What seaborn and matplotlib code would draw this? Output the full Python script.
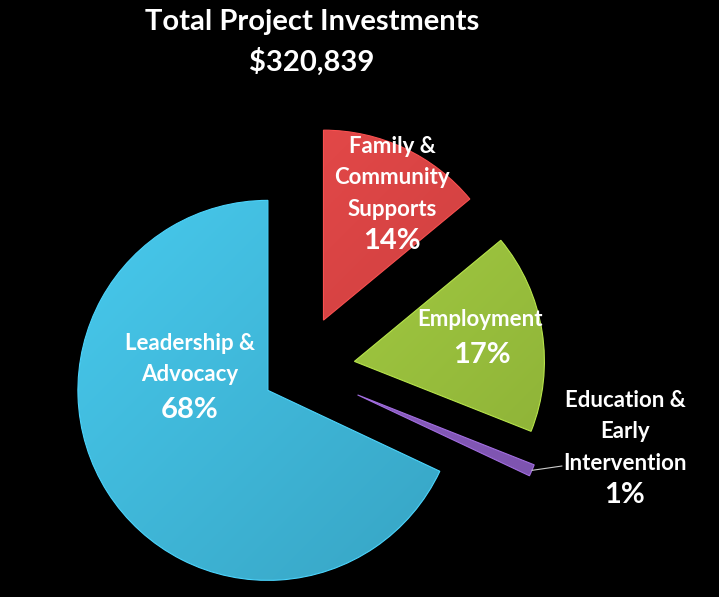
import numpy as np
import matplotlib.pyplot as plt
import matplotlib.colors as mcolors
import seaborn as sns

# ===== DADOS =====
categories = ["Family &\nCommunity\nSupports", "Employment", "Education &\nEarly\nIntervention", "Leadership &\nAdvocacy"]
shares = [14, 17, 1, 68]
colors = ["#d83f3f", "#9dc63b", "#8a5bc2", "#3bb7dc"]
explode = [0.29, 0.29, 0.33, 0.20]
title = "Total Project Investments"
total_label = "$320,839"

# ===== ESTILO =====
sns.set_theme(style="dark")
plt.rcParams["font.family"] = ["Lato", "DejaVu Sans"]
plt.rcParams["figure.facecolor"] = "black"

fig = plt.figure(figsize=(7.19, 5.97), dpi=100)
ax = fig.add_axes([0, 0, 1, 1])
ax.set_facecolor("black")

wedges, _ = ax.pie(shares, colors=colors, explode=explode, startangle=90,
                   counterclock=False, radius=1.0,
                   wedgeprops=dict(linewidth=0))

# leve gradiente em cada fatia (efeito 3D do original)
gx, gy = np.meshgrid(np.linspace(-1.6, 2.3, 400), np.linspace(-1.3, 2.0, 340))
grad = np.clip(0.5 + 0.2 * (gy - gx) / 1.5, 0, 1)
for w, c in zip(wedges, colors):
    base = np.array(mcolors.to_rgb(c))
    light = np.clip(base * 1.12 + 0.05, 0, 1)
    dark = base * 0.8
    img = dark[None, None, :] * (1 - grad[..., None]) + light[None, None, :] * grad[..., None]
    im = ax.imshow(img, extent=(-1.6, 2.3, -1.3, 2.0), origin="lower", zorder=2)
    im.set_clip_path(w)
    w.set_edgecolor(mcolors.to_hex(np.clip(base * 1.1 + 0.04, 0, 1)))
    w.set_linewidth(0.8)
    w.set_zorder(3)
    w.set_facecolor("none")

s = 190.0  # px por unidade
ax.set_xlim(-300 / s, 419 / s)
ax.set_ylim(-227 / s, 370 / s)
ax.set_aspect("equal")
ax.axis("off")

def px(x, y):
    return (x - 300) / s, (370 - y) / s

# títulos
ax.text(*px(312, 22), title, color="white", fontsize=21, fontweight="bold", ha="center", va="center")
ax.text(*px(312, 62), total_label, color="white", fontsize=21, fontweight="bold", ha="center", va="center")

# rótulos
name_pos = [(392, 178), (480, 320), (625, 432), (190, 359)]
pct_pos = [(392, 241), (482, 355), (625, 495), (190, 410)]
for name, v, (nx, ny), (qx, qy) in zip(categories, shares, name_pos, pct_pos):
    ax.text(*px(nx, ny), name, color="white", fontsize=16, fontweight="bold",
            ha="center", va="center", linespacing=1.62, zorder=5)
    ax.text(*px(qx, qy), f"{v}%", color="white", fontsize=21, fontweight="bold",
            ha="center", va="center", zorder=5)

# linha de chamada da fatia de 1%
ang = np.deg2rad(90 - 360 * (shares[0] + shares[1] + shares[2] / 2) / 100)
r = 1 + explode[2]
ax.plot([r * np.cos(ang), px(562, 466)[0]], [r * np.sin(ang), px(562, 466)[1]],
        color="#cccccc", linewidth=0.8, zorder=4)

fig.savefig("out.png", dpi=100, facecolor="black")
